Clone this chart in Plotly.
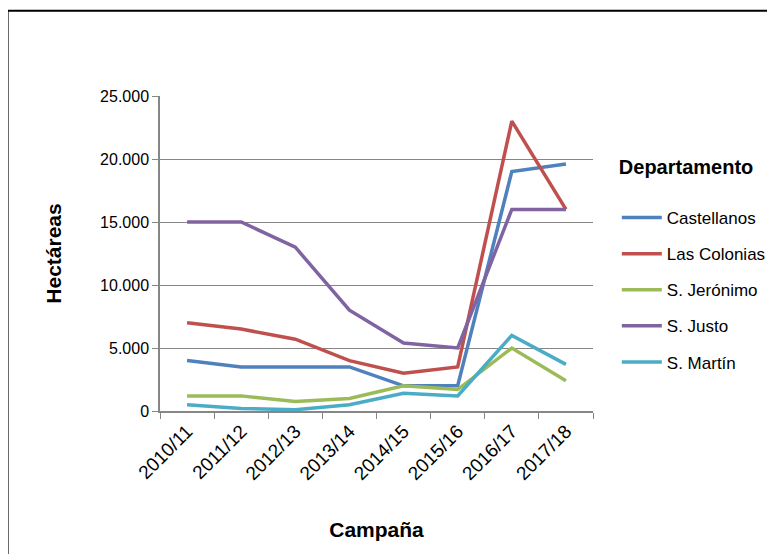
import plotly.graph_objects as go

# campañas (eje X)
campanas = ["2010/11", "2011/12", "2012/13", "2013/14",
            "2014/15", "2015/16", "2016/17", "2017/18"]

# hectáreas por departamento
castellanos = [4000, 3500, 3500, 3500, 2000, 2000, 19000, 19600]
las_colonias = [7000, 6500, 5700, 4000, 3000, 3500, 23000, 16000]
s_jeronimo = [1200, 1200, 750, 1000, 2000, 1700, 5000, 2400]
s_justo = [15000, 15000, 13000, 8000, 5400, 5000, 16000, 16000]
s_martin = [500, 200, 100, 500, 1400, 1200, 6000, 3700]

series = [
    ("Castellanos", castellanos, "#4F81BD"),
    ("Las Colonias", las_colonias, "#C0504D"),
    ("S. Jerónimo", s_jeronimo, "#9BBB59"),
    ("S. Justo", s_justo, "#8064A2"),
    ("S. Martín", s_martin, "#4BACC6"),
]

fig = go.Figure()
for name, vals, color in series:
    fig.add_trace(go.Scatter(
        x=campanas, y=vals, name=name, mode="lines",
        line=dict(color=color, width=3.5),
        legendgroup=name,
    ))

fam = "Liberation Sans, Arial, sans-serif"

# the page body adds ~8px offset, margins compensate for it
fig.update_layout(
    width=775, height=554,
    margin=dict(l=152, r=190, t=88, b=151),
    paper_bgcolor="white", plot_bgcolor="white",
    separators=",.",
    font=dict(family=fam, size=16, color="#000000"),
    showlegend=True,
    legend=dict(
        title=dict(text="<b>Departamento</b><br> ", font=dict(family=fam, size=20)),
        x=1.055, y=0.835, xanchor="left", yanchor="top",
        font=dict(family=fam, size=17),
        tracegroupgap=11,
        itemwidth=40,
    ),
    xaxis=dict(
        type="category",
        range=[-0.5, 7.5],
        automargin=False,
        tickangle=-45,
        tickson="boundaries",
        ticks="outside", ticklen=6, tickcolor="#868686",
        showline=True, linecolor="#868686", linewidth=1.5,
        showgrid=False,
        tickfont=dict(family=fam, size=19),
        title=dict(text="<b>Campaña</b>", font=dict(size=21), standoff=39),
    ),
    yaxis=dict(
        range=[0, 25000],
        automargin=False,
        tick0=0, dtick=5000,
        tickformat=",d",
        ticks="outside", ticklen=6, tickcolor="#868686",
        showline=True, linecolor="#868686", linewidth=1.5,
        showgrid=True, gridcolor="#868686", gridwidth=1,
        zeroline=False,
        tickfont=dict(family=fam, size=16),
        title=dict(text="<b>Hectáreas</b>", font=dict(size=21), standoff=33),
    ),
    shapes=[dict(
        type="rect", xref="paper", yref="paper",
        x0=-0.352, x1=1.6, y0=-0.7, y1=1.271,
        line=dict(color="#000000", width=2), fillcolor="rgba(0,0,0,0)",
        layer="below",
    )],
)

fig.write_html("out.html")
